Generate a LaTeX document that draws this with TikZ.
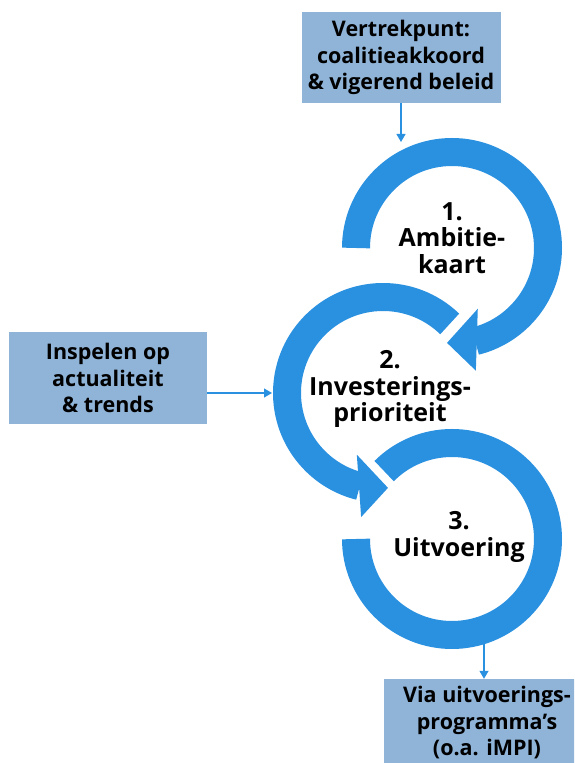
\documentclass[tikz,border=0pt]{standalone}
\usepackage{fontspec}
\setmainfont{Open Sans}
\usepackage{xcolor}
\usetikzlibrary{arrows.meta}

\definecolor{ringblue}{RGB}{42,145,224}
\definecolor{boxblue}{RGB}{143,180,216}

\begin{document}
\begin{tikzpicture}[
    x=1pt, y=1pt,
    ring/.style={draw=ringblue, line width=28pt},
    head/.style={fill=ringblue},
    box/.style={rectangle, fill=boxblue, inner sep=0pt, align=center, font=\fontsize{21.5}{26.5}\selectfont\bfseries},
    steptext/.style={align=center, font=\fontsize{25}{26.5}\selectfont\bfseries},
    link/.style={draw=ringblue, line width=1.2pt, -{Triangle[width=9pt,length=8pt]}},
]
\clip (0,0) rectangle (574,763);

% centres of the three rings
\coordinate (c1) at (452,515);
\coordinate (c2) at (383,370);
\coordinate (c3) at (452,224);

% Ring 1, clockwise into ring 2
\draw[ring] (c1) ++(180:96) arc[start angle=180, end angle=-76, radius=96];
\fill[head] ([shift={(-67:66)}]c1) -- ([shift={(-79:125)}]c1) -- ([shift={(-93:95)}]c1) -- cycle;

% Ring 2, counter-clockwise into ring 3
\draw[ring] (c2) ++(46:96) arc[start angle=46, end angle=256, radius=96];
\fill[head] ([shift={(-113:67)}]c2) -- ([shift={(-100:126)}]c2) -- ([shift={(-87:95)}]c2) -- cycle;

% Ring 3
\draw[ring] (c3) ++(135:96) arc[start angle=135, end angle=-180, radius=96];

% Step labels
\node[steptext] (t1) at ([shift={(0,10)}]c1) {1.\\Ambitie-\\kaart};
\node[steptext] (t2) at ([shift={(7,4)}]c2) {2.\\Investerings-\\prioriteit};
\node[steptext] (t3) at ([shift={(7,2)}]c3) {3.\\Uitvoering};

% Input and output boxes
\node[box, minimum width=199pt, minimum height=91pt] (start) at (401,705.5) {Vertrekpunt:\\coalitieakkoord\\\& vigerend beleid};
\node[box, minimum width=198pt, minimum height=92pt] (trend) at (108,385) {Inspelen op\\actualiteit\\\& trends};
\node[box, minimum width=206pt, minimum height=88pt] (plan) at (487,40) {Via uitvoerings-\\programma’s\\(o.a. iMPI)};

% Connectors
\coordinate (in1) at (401,621);
\coordinate (in2) at ([shift={(-111,0)}]c2);
\coordinate (out3) at (484,120);
\draw[link] (start.south) -- (in1);
\draw[link] (trend.east |- in2) -- (in2);
\draw[link] (out3) -- (out3 |- plan.north);

\end{tikzpicture}
\end{document}
